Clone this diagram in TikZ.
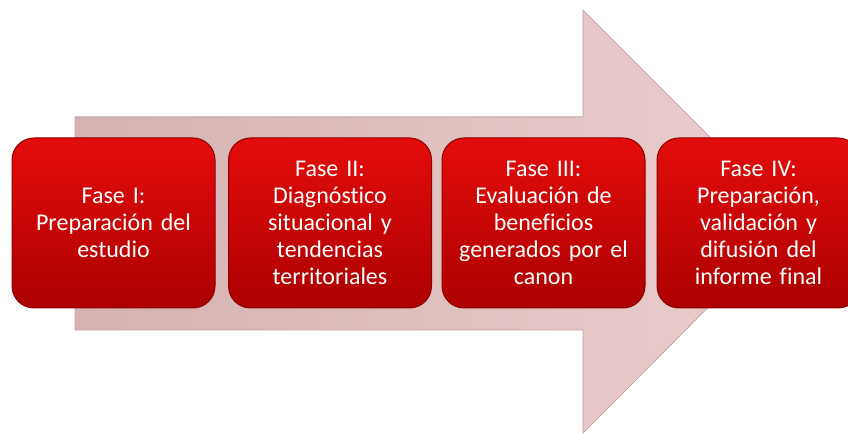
\documentclass[tikz,border=0pt]{standalone}
\usepackage{fontspec}
\setmainfont{Carlito}[Ligatures=NoCommon]
\usepackage{tikz}
\definecolor{faseTop}{RGB}{228,12,12}
\definecolor{faseBot}{RGB}{172,0,0}
\definecolor{faseRim}{RGB}{140,0,0}
\definecolor{flechaL}{RGB}{214,178,178}
\definecolor{flechaR}{RGB}{236,206,206}
\definecolor{flechaRim}{RGB}{200,160,160}

\begin{document}
\begin{tikzpicture}[x=1pt,y=-1pt,
    fase/.style={draw=faseRim, line width=1pt, rounded corners=22pt,
      top color=faseTop, bottom color=faseBot, text=white,
      minimum width=203pt, minimum height=170pt, text width=190pt,
      align=center, font=\fontsize{24}{27}\selectfont}]
    \useasboundingbox (0,0) rectangle (848,435);
    \fill[left color=flechaL, right color=flechaR, draw=flechaRim, line width=0.6pt]
      (75,117) -- (583,117) -- (583,10) -- (794,221) -- (583,433) -- (583,330) -- (75,330) -- cycle;
    \node[fase] (n1) at (113.5,223) {Fase I:\\Preparación del\\estudio};
    \node[fase] (n2) at (330,223) {Fase II:\\Diagnóstico\\situacional y\\tendencias\\territoriales};
    \node[fase] (n3) at (543.5,223) {Fase III:\\Evaluación de\\beneficios\\generados por el\\canon};
    \node[fase] (n4) at (758.5,223) {Fase IV:\\Preparación,\\validación y\\difusión del\\informe final};
\end{tikzpicture}
\end{document}
